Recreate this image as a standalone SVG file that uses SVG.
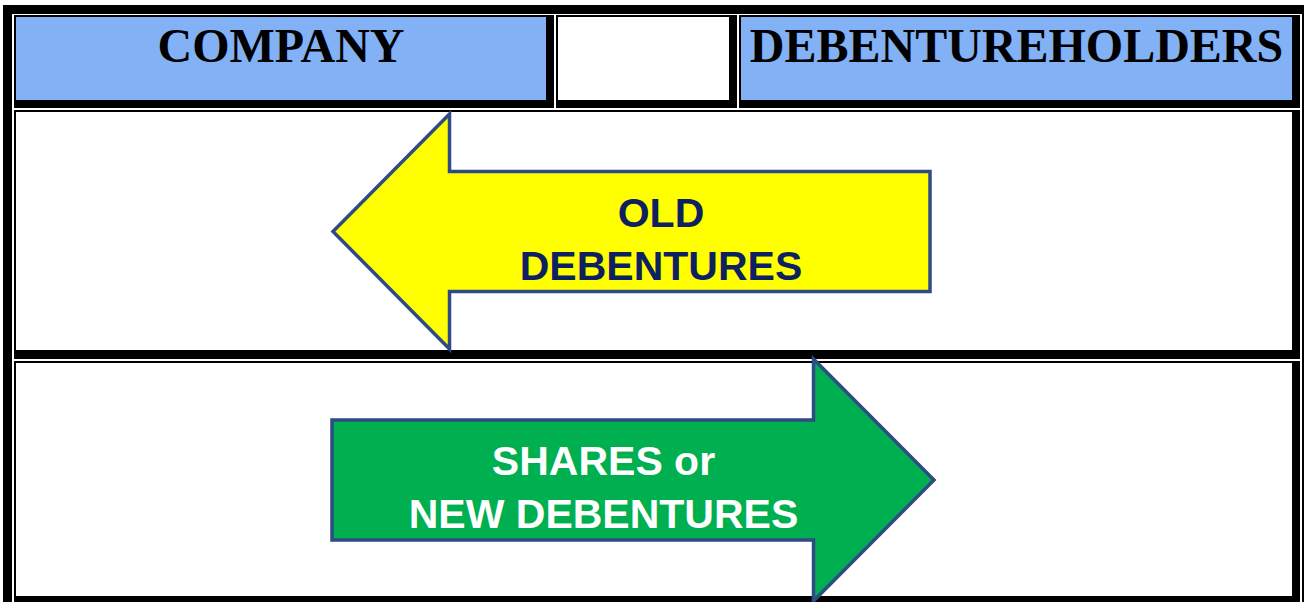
<svg xmlns="http://www.w3.org/2000/svg" width="1304" height="602" viewBox="0 0 1304 602">
  <style>
    .frame { fill: #000000; }
    .hdr { fill: #83B1F5; }
    .blank { fill: #FFFFFF; }
    .htext { font-family: "Liberation Serif", "Times New Roman", serif; font-weight: bold; font-size: 48px; fill: #000000; text-anchor: middle; }
    .arrow { stroke: #2F4B86; stroke-width: 3.5; stroke-linejoin: miter; }
    .atext { font-family: "Liberation Sans", Arial, sans-serif; font-weight: bold; font-size: 41px; text-anchor: middle; }
  </style>
  <rect x="0" y="0" width="1304" height="602" fill="#FFFFFF"/>
  <g id="table-frame">
    <rect class="frame" x="3" y="5" width="1301" height="9"/>
    <rect class="frame" x="3" y="5" width="9" height="597"/>
    <rect class="frame" x="1302" y="5" width="2" height="597"/>
  </g>
  <g id="company">
    <rect class="frame" x="14" y="15" width="540" height="93"/>
    <rect class="hdr" x="16" y="17" width="530" height="83"/>
    <text class="htext" x="281" y="62">COMPANY</text>
  </g>
  <g id="middle-header">
    <rect class="frame" x="556" y="15" width="181" height="93"/>
    <rect class="blank" x="558" y="17" width="171" height="83"/>
  </g>
  <g id="debentureholders">
    <rect class="frame" x="739" y="15" width="561" height="93"/>
    <rect class="hdr" x="741" y="17" width="551" height="83"/>
    <text class="htext" x="1016.5" y="62">DEBENTUREHOLDERS</text>
  </g>
  <g id="row-old">
    <rect class="frame" x="14" y="110" width="1286" height="249"/>
    <rect class="blank" x="16" y="112" width="1276" height="238"/>
  </g>
  <g id="row-new">
    <rect class="frame" x="14" y="361" width="1286" height="243"/>
    <rect class="blank" x="16" y="363" width="1276" height="233"/>
  </g>
  <g id="old-debentures">
    <polygon class="arrow" fill="#FFFF00" points="333,231.5 449.5,114 449.5,171.5 930,171.5 930,291.5 449.5,291.5 449.5,349"/>
    <text class="atext" fill="#0D2160" x="661" y="227">OLD</text>
    <text class="atext" fill="#0D2160" x="661" y="280">DEBENTURES</text>
  </g>
  <g id="shares-or-new-debentures">
    <polygon class="arrow" fill="#00AF50" points="332,420 813.5,420 813.5,359 934,480 813.5,601 813.5,540 332,540"/>
    <text class="atext" fill="#FFFFFF" x="603.5" y="475">SHARES or</text>
    <text class="atext" fill="#FFFFFF" x="603.5" y="528">NEW DEBENTURES</text>
  </g>
  <g id="connectors"/>
</svg>
